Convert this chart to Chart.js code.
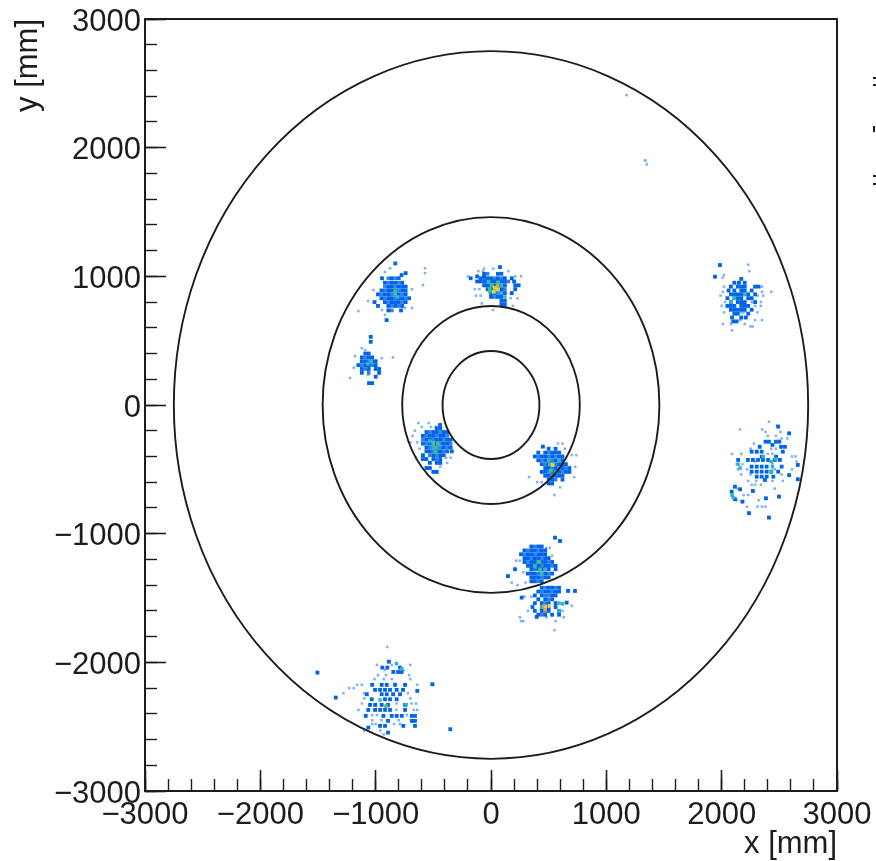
<!DOCTYPE html>
<html>
<head>
<meta charset="utf-8">
<title>x-y hit map</title>
<script src="https://cdn.jsdelivr.net/npm/chart.js@4"></script>
<style>
  html, body { margin: 0; padding: 0; background: #fff; }
  canvas { display: block; filter: blur(0.6px); }
</style>
</head>
<body>
<canvas id="hitmap" width="876" height="861"></canvas>
<script>
// ring radii in mm
const ringRadii = [420, 770, 1460, 2750];

// axis range and tick steps in mm
const axisRange = [-3000, 3000];
const majorStep = 1000;
const minorStep = 200;

// rows of cells: [y, x, x, x ...] in mm
const blueRows = [
  // upper left spot
  [1100, -830], [1025, -740], [1010, -775], [985, -945, -860, -800],
  [950, -920, -860, -830, -770],
  [920, -890, -860, -800, -770, -740],
  [890, -950, -890, -860, -830, -770, -740],
  [860, -980, -920, -890, -830, -800, -740],
  [830, -950, -890, -860, -800, -770, -710],
  [800, -1010, -920, -860, -830, -800, -740],
  [770, -980, -890, -830, -770],
  [735, -890, -780], [660, -905],
  // top centre spot
  [1072, 78], [1020, -60, 60, 90], [1000, -120, -60], [985, -176, -90, -30, 0, 60, 120, 180],
  [960, -120, -90, -60, 0, 30, 90, 120, 200],
  [930, -60, -30, 30, 60, 120, 210, 240], [900, -30, 0, 60, 90, 210],
  [870, 0, 30, 90, 120, 180], [840, 0, 60, 90], [810, 90, 120], [780, 90, 120],
  // small left spot
  [530, -1043], [491, -1043], [400, -1090, -1060], [370, -1120, -1060, -1030],
  [340, -1120, -1090, -1030, -1000], [310, -1150, -1090, -1060, -1000],
  [280, -1120, -1060, -1000, -970], [250, -1120, -970], [220, -1000], [170, -1058, -1030],
  // inner ring, lower left
  [-155, -442], [-180, -470, -440], [-210, -560, -500, -470, -410, -380],
  [-240, -590, -530, -500, -440, -410],
  [-270, -560, -530, -470, -440, -380, -350],
  [-300, -590, -530, -470, -410, -380],
  [-330, -560, -500, -470, -410, -350],
  [-360, -560, -530, -470, -440, -380, -340],
  [-390, -590, -500, -440, -410],
  [-420, -590, -560, -500, -440], [-450, -530, -470, -440], [-490, -560, -530], [-520, -500, -470],
  // inner ring, lower right
  [-324, 450], [-340, 500, 560], [-370, 410, 470, 530, 560, 590], [-400, 380, 440, 470, 530, 590, 620],
  [-430, 410, 470, 500, 560, 620],
  [-460, 440, 500, 590, 620, 650],
  [-490, 470, 500, 560, 620, 680],
  [-520, 440, 470, 530, 560, 590, 650, 680],
  [-550, 470, 500, 560, 590, 620], [-580, 500, 530, 620], [-610, 500, 530],
  // spot on the middle ring
  [-1031, 555], [-1057, 598], [-1100, 350, 410, 440], [-1130, 290, 350, 380, 440, 470],
  [-1160, 260, 320, 350, 410, 440, 470],
  [-1190, 290, 320, 380, 410, 470, 500],
  [-1220, 290, 350, 380, 440, 470, 530],
  [-1250, 320, 350, 410, 470, 500, 560],
  [-1276, 208, 350, 410, 440, 500, 560],
  [-1310, 320, 350, 380, 440, 470, 530], [-1330, 147],
  [-1340, 350, 380, 410, 470, 500], [-1370, 350, 380, 440],
  // spot below the middle ring
  [-1420, 440, 500, 530, 590], [-1445, 728, 668],
  [-1450, 410, 470, 500, 560, 590], [-1480, 380, 440, 530, 560],
  [-1497, 266], [-1510, 410, 470, 530], [-1536, 656],
  [-1540, 380, 440, 500, 560], [-1570, 360, 440, 500, 560], [-1600, 380, 440, 500, 590],
  [-1630, 410, 470, 530, 590], [-1647, 396],
  // upper right spot
  [1088, 1985], [997, 1942], [980, 2170], [950, 2110, 2150, 2200],
  [920, 2080, 2140, 2170, 2200, 2290, 2320], [890, 2060, 2110, 2170, 2200, 2260],
  [860, 2080, 2110, 2140, 2170, 2200, 2230, 2290], [830, 2050, 2110, 2140, 2170, 2230, 2260],
  [800, 2080, 2140, 2170, 2200, 2290], [770, 2050, 2080, 2110, 2170, 2200, 2230],
  [740, 2080, 2110, 2140, 2170, 2200, 2260], [710, 2110, 2140, 2230], [680, 2090, 2170, 2210], [650, 2100, 2130],
  // lower right spot
  [-168, 2490], [-220, 2585], [-285, 2380, 2410, 2470, 2500], [-310, 2440], [-325, 2330, 2515, 2549],
  [-363, 2260, 2304, 2347, 2530], [-402, 2347, 2472], [-427, 2143, 2228, 2271, 2315, 2358, 2402, 2462, 2505],
  [-466, 2660], [-479, 2260, 2304, 2347, 2390, 2520], [-518, 2260, 2304, 2347, 2390, 2430, 2490],
  [-545, 2585], [-557, 2304, 2347, 2390, 2448], [-577, 2660], [-583, 2375],
  [-635, 2115], [-655, 2160], [-668, 2271], [-674, 2087], [-712, 2497], [-725, 2384], [-732, 2115],
  [-751, 2180], [-840, 2237], [-875, 2410],
  // bottom left spot
  [-1995, -885], [-2041, -942, -899, -789], [-2075, -847, -806, -775], [-2080, -1505],
  [-2170, -509], [-2175, -1030, -948, -904, -832, -745], [-2214, -1005, -962, -919, -876, -818, -763],
  [-2222, -639], [-2248, -1077, -948, -904, -849, -789], [-2274, -1346], [-2287, -1034, -919, -876, -818],
  [-2331, -1049, -1005, -948, -893, -745], [-2370, -1064, -1005, -962, -919, -876, -745],
  [-2416, -1086, -933, -861, -818, -774, -687, -659], [-2455, -893, -687, -659],
  [-2494, -962, -919, -760, -659], [-2507, -1064], [-2520, -353], [-2546, -893]
];

// medium blue bins that fill in the dense spots
const midRows = [
  [985, -890, -830], [950, -890, -800], [920, -920, -830], [890, -920, -800], [860, -950, -860, -770],
  [830, -920, -830, -740], [800, -890, -770], [770, -860, -800], [735, -860],
  [1020, -30], [985, -60, 30, 90], [960, -30, 60, 150], [930, 0, 90], [900, 30, 120], [870, 60], [840, 30],
  [370, -1090], [340, -1060], [310, -1120, -1030], [280, -1090], [250, -1060],
  [-210, -530, -440], [-240, -560, -470, -380], [-270, -590, -500, -410], [-300, -560, -500, -440, -350],
  [-330, -530, -440, -380], [-360, -500, -410], [-390, -530, -470], [-420, -470],
  [-370, 500], [-400, 410, 500, 560], [-430, 440, 530, 590], [-460, 470, 530, 560], [-490, 530, 590, 650],
  [-520, 500, 620], [-550, 530], [-580, 560],
  [-1100, 380], [-1130, 320, 410], [-1160, 290, 380], [-1190, 350, 440], [-1220, 320, 410, 500],
  [-1250, 380, 440, 530], [-1276, 380, 470], [-1310, 410, 500], [-1340, 440], [-1370, 410],
  [-1420, 470, 560], [-1450, 440, 530], [-1480, 470, 500], [-1510, 500], [-1540, 470], [-1570, 500],
  [-1600, 470], [-1630, 440]
];

const faintRows = [
  // upper left spot
  [1062, -572, -875], [1033, -920], [1025, -572], [932, -590], [893, -1020], [900, -685],
  [808, -1065], [754, -685, -745], [738, -945], [730, -1150], [700, -920],
  // top centre spot
  [1060, -60, 20], [1040, -110, -70, 150], [1000, -200, 210, 260], [900, -140, -100], [850, -130, -90],
  [830, 170, 230], [790, -80], [770, 190], [738, 17],
  // small left spot
  [441, -1121], [427, -1092], [380, -1179], [370, -850], [364, -947], [290, -1190], [233, -1066], [210, -1222],
  // inner ring, lower left
  [-140, -630, -540], [-170, -600, -520, -480], [-200, -660], [-240, -680], [-290, -700, -640], [-340, -620],
  [-410, -650, -390, -350], [-450, -380], [-480, -440],
  // inner ring, lower right
  [-300, 580, 620], [-340, 640], [-390, 700, 740], [-480, 730], [-560, 330, 720], [-600, 400, 440],
  [-640, 600], [-700, 550],
  // spot on the middle ring
  [-1110, 480, 510], [-1170, 530], [-1210, 220, 250], [-1300, 280], [-1380, 180, 300], [-1400, 230],
  // spot below the middle ring
  [-1490, 290, 350], [-1560, 700], [-1600, 320, 620], [-1650, 250, 480, 630], [-1680, 260, 280, 560],
  [-1750, 550],
  // upper right spot
  [1090, 2230], [1040, 2240], [1010, 2020], [990, 2010], [920, 2020, 2350], [880, 2010, 2350, 2430],
  [850, 1990, 2310, 2360], [800, 2030, 2260, 2340], [770, 2000, 2290, 2340], [720, 2020, 2170, 2190, 2310],
  [660, 2160, 2290, 2350], [630, 2010, 2080, 2200], [610, 2250, 2270], [580, 2090],
  // lower right spot
  [-130, 2410], [-160, 2480], [-190, 2160, 2350], [-210, 2380, 2510], [-240, 2400, 2470], [-260, 2520, 2570],
  [-300, 2280], [-340, 2250, 2430, 2470], [-380, 2090, 2170, 2400, 2440], [-400, 2610, 2640],
  [-440, 2290, 2650], [-460, 2130, 2180, 2440], [-500, 2140, 2220, 2460, 2610],
  [-540, 2170, 2250, 2520], [-590, 2230, 2300, 2440, 2530], [-620, 2260, 2290, 2340], [-650, 2140, 2460],
  [-700, 2090, 2190, 2230], [-740, 2130, 2320], [-790, 2220, 2310, 2350, 2380],
  // bottom left spot
  [-1880, -900], [-2020, -990, -860, -700], [-2060, -920, -760], [-2100, -980, -910, -710],
  [-2130, -1010, -930, -860, -700], [-2175, -1160, -1120, -640, -500], [-2200, -1230, -1190],
  [-2240, -1280, -1100, -720], [-2280, -1100, -700], [-2320, -1120, -820, -690, -650],
  [-2370, -1150, -820, -670, -640], [-2410, -990, -1030, -730], [-2450, -1030, -800, -950],
  [-2480, -1030, -1000, -840, -790], [-2530, -1100, -960], [-2560, -930],
  // stray hits near the top
  [2408, 1176], [1900, 1340, 1335], [1870, 1350]
];

// the few hotter bins, [x, y] in mm
const tealCells = [
  [-830, 860], [-810, 840], [-1070, 320], [-1040, 340], [-530, -280], [-470, -330], [-500, -330],
  [-20, 960], [90, 930], [-10, 880], [90, 870], [120, 840], [500, -430], [560, -520], [590, -430],
  [380, -1250], [410, -1220], [440, -1310], [470, -1280], [590, -1540], [620, -1545], [440, -1570], [590, -1600],
  [2200, 860], [2110, 830], [2080, 800], [2143, -460], [2160, -490], [2430, -440], [2470, -420], [2430, -520],
  [2360, -400], [2440, -480], [2090, -700], [2100, -720], [-962, -2292], [-775, -2050], [-735, -2330], [-820, -2010]
];
const greenCells = [
  [-830, 885], [-500, -300], [-460, -300], [-480, -365], [10, 930], [60, 950], [-10, 900], [510, -460], [520, -510],
  [425, -1280], [420, -1220], [-910, -2340]
];
const yellowCells = [[35, 910], [60, 900], [25, 880], [535, -466], [506, -1562]];
const orangeCells = [[55, 925], [460, -1562], [470, -1590]];

function cellsFrom(rows) {
  const cells = [];
  rows.forEach(row => row.slice(1).forEach(x => cells.push({x: x, y: row[0]})));
  return cells;
}

function pairs(list) {
  return list.map(p => ({x: p[0], y: p[1]}));
}

const inkColor = '#1c1c1c';
const labelFamily = '"Liberation Sans", Arial, sans-serif';
const tickFont = {family: labelFamily, size: 31};
const titleFont = {family: labelFamily, size: 31};

function cellSet(data, color, radius) {
  return {
    data: data,
    backgroundColor: color,
    borderWidth: 0,
    pointStyle: 'rect',
    pointRadius: radius
  };
}

// frame, rings and the clipped palette labels at the right edge
const overlayPlugin = {
  id: 'overlay',
  afterDatasetsDraw(chart) {
    const {ctx, chartArea, scales} = chart;
    const cx = scales.x.getPixelForValue(0);
    const cy = scales.y.getPixelForValue(0);
    ctx.save();
    ctx.strokeStyle = inkColor;
    ctx.lineWidth = 1.9;
    ringRadii.forEach(r => {
      const rx = scales.x.getPixelForValue(r) - cx;
      const ry = cy - scales.y.getPixelForValue(r);
      ctx.beginPath();
      ctx.ellipse(cx, cy, rx, ry, 0, 0, Math.PI * 2);
      ctx.stroke();
    });
    ctx.lineWidth = 2;
    ctx.strokeRect(chartArea.left, chartArea.top, chartArea.right - chartArea.left, chartArea.bottom - chartArea.top);
    ctx.fillStyle = inkColor;
    [[873, 77, 3, 2], [873, 84, 3, 2], [873, 126, 2, 6], [873, 175, 3, 2], [873, 183, 3, 2]].forEach(m => ctx.fillRect(m[0], m[1], m[2], m[3]));
    ctx.restore();
  }
};

const minusLabel = v => String(v).replace('-', '\u2212');

// fixed axis bands, no room reserved for overhanging end labels
function fixBand(scale, prop, size) {
  scale[prop] = size;
  scale.paddingLeft = scale.paddingRight = scale.paddingTop = scale.paddingBottom = 0;
}

new Chart(document.getElementById('hitmap'), {
  type: 'scatter',
  data: {
    // first dataset ends up on top
    datasets: [
      cellSet(pairs(orangeCells), '#f0a830', 2.4),
      cellSet(pairs(yellowCells), '#e6d83a', 2.6),
      cellSet(pairs(greenCells), '#45c07a', 2.6),
      cellSet(pairs(tealCells), '#2fb7c4', 2.5),
      cellSet(cellsFrom(blueRows), '#0064e8', 2.7),
      cellSet(cellsFrom(midRows), '#2f80ec', 2.6),
      cellSet(cellsFrom(faintRows), '#7fb2f5', 1.8)
    ]
  },
  options: {
    responsive: false,
    animation: false,
    events: [],
    layout: {padding: {top: 19, right: 39, left: 0, bottom: 0}},
    plugins: {legend: {display: false}, tooltip: {enabled: false}},
    scales: {
      x: {
        type: 'linear',
        position: 'bottom',
        min: axisRange[0],
        max: axisRange[1],
        afterFit: s => fixBand(s, 'height', 70),
        border: {display: false},
        grid: {drawOnChartArea: false, tickLength: -21, tickWidth: 1.6, tickColor: inkColor},
        ticks: {stepSize: majorStep, maxRotation: 0, autoSkip: false, padding: 27, color: inkColor, font: tickFont, callback: minusLabel},
        title: {display: true, text: 'x [mm]', align: 'end', color: inkColor, font: titleFont, padding: {top: 0, bottom: -2}}
      },
      y: {
        type: 'linear',
        position: 'left',
        min: axisRange[0],
        max: axisRange[1],
        afterFit: s => fixBand(s, 'width', 145),
        border: {display: false},
        grid: {drawOnChartArea: false, tickLength: -21, tickWidth: 1.6, tickColor: inkColor},
        ticks: {stepSize: majorStep, autoSkip: false, padding: 25, labelOffset: 3, color: inkColor, font: tickFont, callback: minusLabel},
        title: {display: true, text: 'y [mm]', align: 'end', color: inkColor, font: titleFont, padding: 10}
      },
      xMinor: {
        type: 'linear',
        position: {y: axisRange[0]},
        min: axisRange[0],
        max: axisRange[1],
        border: {display: false},
        grid: {drawOnChartArea: false, tickLength: -12, tickWidth: 1.4, tickColor: inkColor},
        ticks: {stepSize: minorStep, autoSkip: false, display: false}
      },
      yMinor: {
        type: 'linear',
        position: {x: axisRange[0]},
        min: axisRange[0],
        max: axisRange[1],
        border: {display: false},
        grid: {drawOnChartArea: false, tickLength: -12, tickWidth: 1.4, tickColor: inkColor},
        ticks: {stepSize: minorStep, autoSkip: false, display: false}
      }
    }
  },
  plugins: [overlayPlugin]
});
</script>
</body>
</html>
